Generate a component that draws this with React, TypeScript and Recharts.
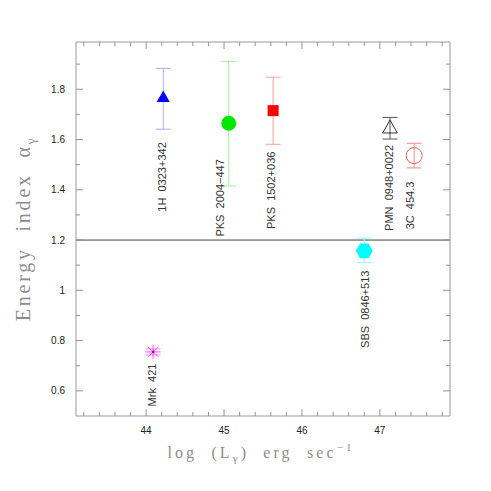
import React from "react";
import {
  ScatterChart,
  Scatter,
  XAxis,
  YAxis,
  ErrorBar,
  ReferenceLine,
  Label,
} from "recharts";

// blazar sample: log gamma-ray luminosity vs. energy index
const sources = [
  "1H  0323+342",
  "PKS  2004\u2212447",
  "PKS  1502+036",
  "PMN  0948+0022",
  "3C  454.3",
  "SBS  0846+513",
  "Mrk  421",
];
const logL = [44.22, 45.06, 45.63, 47.13, 47.44, 46.8, 44.09];
const alpha = [1.767, 1.665, 1.715, 1.646, 1.536, 1.157, 0.755];
const errLow = [0.126, 0.25, 0.134, 0.044, 0.049, 0.046, 0.012];
const errHigh = [0.116, 0.246, 0.133, 0.042, 0.049, 0.051, 0.012];

const xMajorTicks = [44, 45, 46, 47];
const xMinorTicks = [
  43.2, 43.4, 43.6, 43.8, 44.2, 44.4, 44.6, 44.8, 45.2, 45.4, 45.6, 45.8,
  46.2, 46.4, 46.6, 46.8, 47.2, 47.4, 47.6, 47.8,
];
const yMajorTicks = [0.6, 0.8, 1, 1.2, 1.4, 1.6, 1.8];
const yMinorTicks = [0.7, 0.9, 1.1, 1.3, 1.5, 1.7, 1.9];

const X_DOMAIN: [number, number] = [43.1, 47.9];
const Y_DOMAIN: [number, number] = [0.5, 1.988];

// per-source styling
const markerKinds = [
  "triangle",
  "circle",
  "square",
  "openTriangle",
  "openCircle",
  "hexagon",
  "asterisk",
];
const markerColors = ["#0000ff", "#00e800", "#ff0000", "#333333", "#ff5a5a", "#00ffff", "#ff50ff"];
const barColors = ["#a8acff", "#a0f0a0", "#f4a0a0", "#555555", "#f48a8a", "#90ffff", "#ff90ff"];
// label placement relative to marker (px): baseline shift, gap to text end
const labelShift = [
  [3, 44.7],
  [-4.7, 36],
  [2, 41],
  [3, 17],
  [0.3, 26],
  [4.5, 19.7],
  [2.7, 11.7],
];

const rows = sources.map((name, i) => ({
  name,
  x: logL[i],
  y: alpha[i],
  err: [errLow[i], errHigh[i]],
}));

const FRAME = "#999999";
const TICK = "#939393";
const SANS = "'Liberation Sans', Arial, sans-serif";
const SERIF = "'Liberation Serif', 'Times New Roman', serif";

// frame tick anchors: one point per tick on each edge, drawn as a short inward line
const frameTicks = [
  ...xMajorTicks.flatMap((v) => [
    { x: v, y: Y_DOMAIN[0], side: "b", len: 7 },
    { x: v, y: Y_DOMAIN[1], side: "t", len: 7 },
  ]),
  ...xMinorTicks.flatMap((v) => [
    { x: v, y: Y_DOMAIN[0], side: "b", len: 4 },
    { x: v, y: Y_DOMAIN[1], side: "t", len: 4 },
  ]),
  ...yMajorTicks.flatMap((v) => [
    { x: X_DOMAIN[0], y: v, side: "l", len: 7 },
    { x: X_DOMAIN[1], y: v, side: "r", len: 7 },
  ]),
  ...yMinorTicks.flatMap((v) => [
    { x: X_DOMAIN[0], y: v, side: "l", len: 4 },
    { x: X_DOMAIN[1], y: v, side: "r", len: 4 },
  ]),
];

const TickMark = (props: any) => {
  const { cx, cy, payload } = props;
  const { side, len } = payload;
  let d = { x2: cx, y2: cy };
  if (side === "b") d = { x2: cx, y2: cy - len };
  else if (side === "t") d = { x2: cx, y2: cy + len };
  else if (side === "l") d = { x2: cx + len, y2: cy };
  else d = { x2: cx - len, y2: cy };
  return <line x1={cx} y1={cy} {...d} stroke={TICK} strokeWidth={1} />;
};

const renderMarker = (props: any, i: number) => {
  const { cx, cy } = props;
  const kind = markerKinds[i];
  const c = markerColors[i];
  let mark: React.ReactNode = null;
  if (kind === "triangle") {
    mark = (
      <polygon
        points={`${cx},${cy - 7} ${cx - 6.5},${cy + 4.5} ${cx + 6.5},${cy + 4.5}`}
        fill={c}
      />
    );
  } else if (kind === "circle") {
    mark = <circle cx={cx} cy={cy} r={7.5} fill={c} />;
  } else if (kind === "square") {
    mark = <rect x={cx - 5.5} y={cy - 5.5} width={11} height={11} fill={c} />;
  } else if (kind === "openTriangle") {
    mark = (
      <polygon
        points={`${cx},${cy - 8} ${cx - 7.3},${cy + 5} ${cx + 7.3},${cy + 5}`}
        fill="none"
        stroke={c}
        strokeWidth={1}
      />
    );
  } else if (kind === "openCircle") {
    mark = <circle cx={cx} cy={cy} r={8} fill="none" stroke={c} strokeWidth={1} />;
  } else if (kind === "hexagon") {
    const pts = [0, 60, 120, 180, 240, 300]
      .map((a) => {
        const r = (a * Math.PI) / 180;
        return `${cx + 8.5 * Math.cos(r)},${cy + 8.5 * Math.sin(r)}`;
      })
      .join(" ");
    mark = <polygon points={pts} fill={c} />;
  } else {
    mark = (
      <g stroke={c} strokeWidth={1}>
        {[0, 45, 90, 135].map((a) => {
          const r = (a * Math.PI) / 180;
          const dx = 7.5 * Math.cos(r);
          const dy = 7 * Math.sin(r);
          return <line key={a} x1={cx - dx} y1={cy - dy} x2={cx + dx} y2={cy + dy} />;
        })}
        <circle cx={cx} cy={cy} r={1.3} fill="#b000b0" stroke="none" />
      </g>
    );
  }
  const lx = cx + labelShift[i][0];
  const ly = cy + labelShift[i][1];
  return (
    <g>
      {mark}
      <text
        x={lx}
        y={ly}
        transform={`rotate(-90 ${lx} ${ly})`}
        textAnchor="end"
        fontSize={11}
        fontFamily={SANS}
        fill="#333"
        xmlSpace="preserve"
        style={{ whiteSpace: "pre" }}
      >
        {sources[i]}
      </text>
    </g>
  );
};

const XTick = (props: any) => {
  const { x, y, payload } = props;
  return (
    <text x={x} y={y + 18} textAnchor="middle" fontSize={10} fontFamily={SANS} fill="#222">
      {payload.value}
    </text>
  );
};

const YTick = (props: any) => {
  const { x, y, payload } = props;
  return (
    <text x={x - 11} y={y + 3.5} textAnchor="end" fontSize={10} fontFamily={SANS} fill="#222">
      {payload.value}
    </text>
  );
};

const XTitle = (props: any) => {
  const { x, y, width } = props.viewBox;
  return (
    <text
      x={x + width / 2 - 2}
      y={y + 42}
      textAnchor="middle"
      fontSize={16}
      fontFamily={SERIF}
      fill="#8c8c8c"
      letterSpacing={3.1}
      xmlSpace="preserve"
      style={{ whiteSpace: "pre" }}
    >
      {"log  (L"}
      <tspan dy={4} fontSize={11}>γ</tspan>
      <tspan dy={-4}>{")  erg  sec"}</tspan>
      <tspan dy={-7} fontSize={11}>{"\u22121"}</tspan>
    </text>
  );
};

const YTitle = (props: any) => {
  const { x, y, width, height } = props.viewBox;
  const tx = x + width - 46.5;
  const ty = y + height / 2 - 0.5;
  return (
    <text
      x={tx}
      y={ty}
      transform={`rotate(-90 ${tx} ${ty})`}
      textAnchor="middle"
      fontSize={20}
      fontFamily={SERIF}
      fill="#8c8c8c"
      letterSpacing={2.8}
      xmlSpace="preserve"
      style={{ whiteSpace: "pre" }}
    >
      {"Energy  index  α"}
      <tspan dy={5} fontSize={13}>γ</tspan>
    </text>
  );
};

const App: React.FC = () => {
  return (
    <div style={{ position: "absolute", left: 0, top: 0, background: "#fff" }}>
      <ScatterChart
        width={491}
        height={491}
        margin={{ top: 41, right: 40, bottom: 74, left: 75 }}
      >
        <XAxis
          dataKey="x"
          type="number"
          domain={X_DOMAIN}
          allowDataOverflow
          ticks={xMajorTicks}
          interval={0}
          height={1}
          tickSize={0}
          tickMargin={0}
          tickLine={false}
          tick={XTick}
          axisLine={{ stroke: FRAME }}
        >
          <Label content={XTitle} />
        </XAxis>
        <XAxis
          xAxisId="top"
          orientation="top"
          type="number"
          domain={X_DOMAIN}
          allowDataOverflow
          height={1}
          tick={false}
          tickLine={false}
          axisLine={{ stroke: FRAME }}
        />
        <YAxis
          dataKey="y"
          type="number"
          domain={Y_DOMAIN}
          allowDataOverflow
          ticks={yMajorTicks}
          interval={0}
          width={1}
          tickSize={0}
          tickMargin={0}
          tickLine={false}
          tick={YTick}
          axisLine={{ stroke: FRAME }}
        >
          <Label content={YTitle} />
        </YAxis>
        <YAxis
          yAxisId="right"
          orientation="right"
          type="number"
          domain={Y_DOMAIN}
          allowDataOverflow
          width={1}
          tick={false}
          tickLine={false}
          axisLine={{ stroke: FRAME }}
        />
        <ReferenceLine y={1.2} stroke="#444" strokeWidth={1} />
        <Scatter
          name="frame ticks"
          data={frameTicks}
          isAnimationActive={false}
          shape={TickMark}
        />
        {rows.map((row, i) => (
          <Scatter
            key={row.name}
            name={row.name}
            data={[row]}
            isAnimationActive={false}
            shape={(p: any) => renderMarker(p, i)}
          >
            <ErrorBar
              dataKey="err"
              direction="y"
              width={7.5}
              stroke={barColors[i]}
              strokeWidth={1}
              isAnimationActive={false}
            />
          </Scatter>
        ))}
      </ScatterChart>
    </div>
  );
};

export default App;
